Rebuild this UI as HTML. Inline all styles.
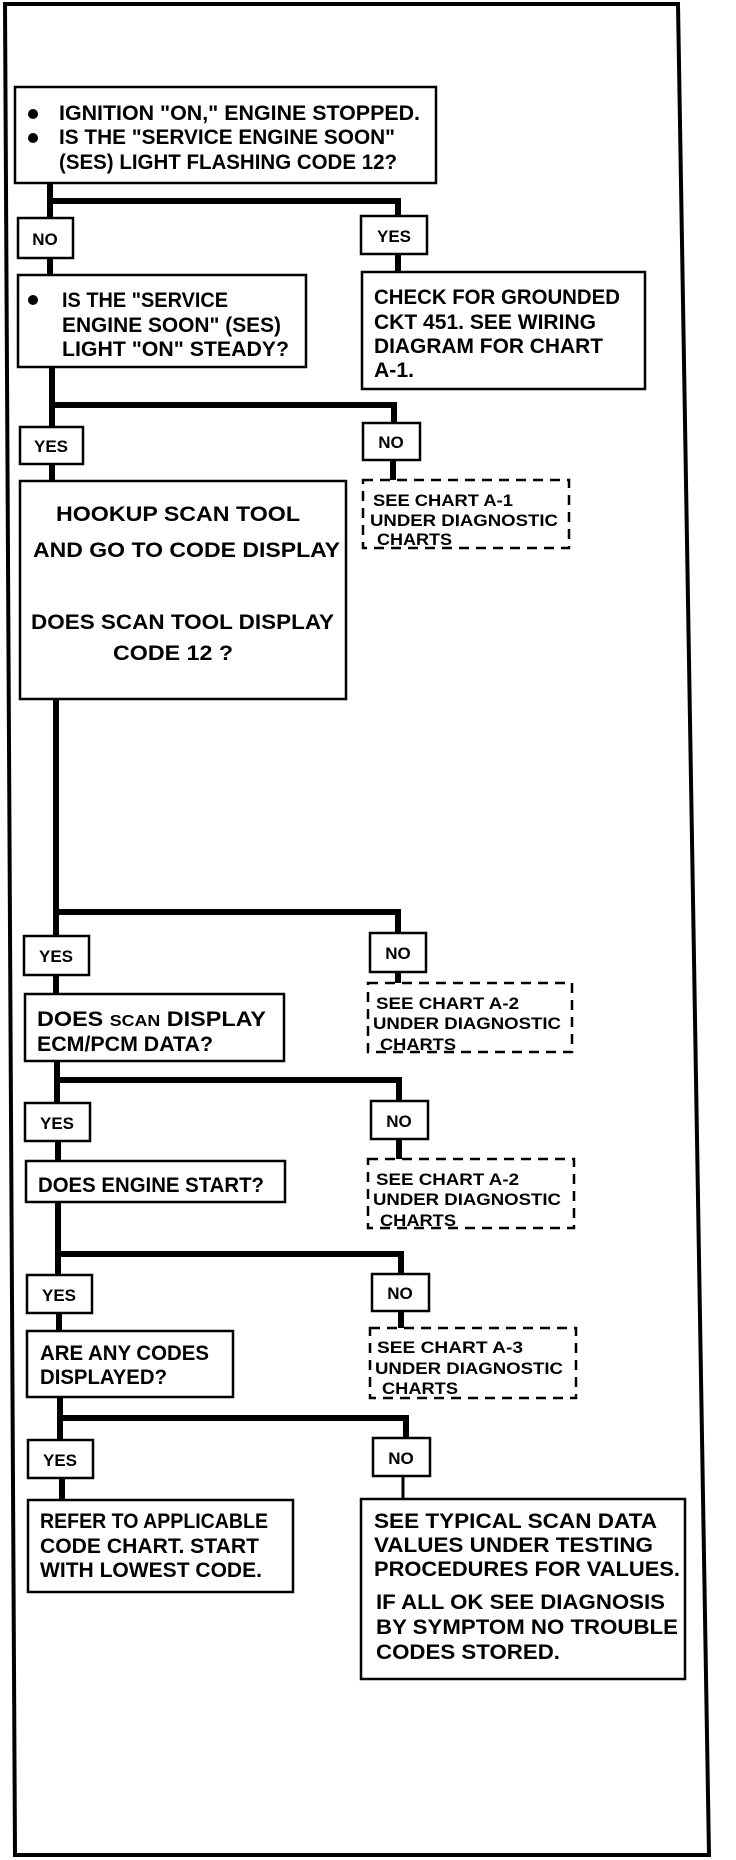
<!DOCTYPE html>
<html><head><meta charset="utf-8"><style>
html,body{margin:0;padding:0;background:#fff}
svg{display:block}
text{font-family:"Liberation Sans",sans-serif;font-weight:bold;fill:#000}
</style></head><body>
<svg width="736" height="1860" viewBox="0 0 736 1860" xmlns="http://www.w3.org/2000/svg">
<polygon points="5,4 678,4 709,1855 15,1855" fill="none" stroke="#000" stroke-width="4"/>
<g fill="none" stroke="#000" stroke-width="2.5">
<rect x="15" y="87" width="421" height="96"/>
<rect x="18" y="218" width="55" height="40"/>
<rect x="361" y="216" width="66" height="38"/>
<rect x="18" y="275" width="288" height="92"/>
<rect x="362" y="272" width="283" height="117"/>
<rect x="20" y="427" width="63" height="37"/>
<rect x="363" y="423" width="57" height="37"/>
<rect x="20" y="481" width="326" height="218"/>
<rect x="24" y="936" width="65" height="39"/>
<rect x="370" y="933" width="56" height="39"/>
<rect x="25" y="994" width="259" height="67"/>
<rect x="25" y="1103" width="65" height="38"/>
<rect x="371" y="1101" width="57" height="38"/>
<rect x="26" y="1161" width="259" height="41"/>
<rect x="27" y="1275" width="65" height="38"/>
<rect x="372" y="1274" width="57" height="37"/>
<rect x="27" y="1331" width="206" height="66"/>
<rect x="28" y="1440" width="65" height="38"/>
<rect x="373" y="1438" width="57" height="38"/>
<rect x="28" y="1500" width="265" height="92"/>
<rect x="361" y="1499" width="324" height="180"/>
</g>
<g fill="none" stroke="#000" stroke-width="2.5" stroke-dasharray="10,7">
<rect x="363" y="480" width="206" height="68"/>
<rect x="368" y="983" width="204" height="69"/>
<rect x="368" y="1159" width="206" height="69"/>
<rect x="370" y="1328" width="206" height="70"/>
</g>
<g fill="none" stroke="#000" stroke-width="6">
<path d="M50,183 V218 M50,201 H398 V216 M398,254 V272 M50,258 V275"/>
<path d="M52,367 V427 M52,405 H394 V423 M393,460 V480 M52,464 V481"/>
<path d="M56,699 V936 M56,912 H398 V933 M398,972 V983 M56,975 V994"/>
<path d="M57,1061 V1103 M57,1080 H399 V1101 M399,1139 V1159 M58,1141 V1161"/>
<path d="M58,1202 V1275 M58,1254 H401 V1274 M401,1311 V1328 M59,1313 V1331"/>
<path d="M60,1397 V1440 M60,1418 H406 V1438 M62,1478 V1500"/>
</g>
<path d="M403,1476 V1499" stroke="#000" stroke-width="3"/>
<circle cx="33" cy="114" r="5"/><circle cx="33" cy="138" r="5"/><circle cx="33" cy="300" r="5"/>
<g font-size="21">
<text x="59" y="120" textLength="361" lengthAdjust="spacingAndGlyphs">IGNITION "ON," ENGINE STOPPED.</text>
<text x="59" y="144" textLength="336" lengthAdjust="spacingAndGlyphs">IS THE "SERVICE ENGINE SOON"</text>
<text x="59" y="169" textLength="338" lengthAdjust="spacingAndGlyphs">(SES) LIGHT FLASHING CODE 12?</text>
<text x="62" y="307" textLength="166" lengthAdjust="spacingAndGlyphs">IS THE "SERVICE</text>
<text x="62" y="332" textLength="219" lengthAdjust="spacingAndGlyphs">ENGINE SOON" (SES)</text>
<text x="62" y="356" textLength="227" lengthAdjust="spacingAndGlyphs">LIGHT "ON" STEADY?</text>
<text x="374" y="304" textLength="246" lengthAdjust="spacingAndGlyphs">CHECK FOR GROUNDED</text>
<text x="374" y="329" textLength="222" lengthAdjust="spacingAndGlyphs">CKT 451.  SEE WIRING</text>
<text x="374" y="353" textLength="229" lengthAdjust="spacingAndGlyphs">DIAGRAM FOR CHART</text>
<text x="374" y="377" textLength="40" lengthAdjust="spacingAndGlyphs">A-1.</text>
<text x="56" y="521" textLength="244" lengthAdjust="spacingAndGlyphs">HOOKUP  SCAN TOOL</text>
<text x="33" y="557" textLength="307" lengthAdjust="spacingAndGlyphs">AND GO TO CODE  DISPLAY</text>
<text x="31" y="629" textLength="303" lengthAdjust="spacingAndGlyphs">DOES SCAN TOOL DISPLAY</text>
<text x="113" y="660" textLength="120" lengthAdjust="spacingAndGlyphs">CODE 12  ?</text>
<text x="37" y="1026" textLength="229" lengthAdjust="spacingAndGlyphs">DOES <tspan font-size="16">SCAN</tspan>  DISPLAY</text>
<text x="37" y="1051" textLength="176" lengthAdjust="spacingAndGlyphs">ECM/PCM DATA?</text>
<text x="38" y="1192" textLength="226" lengthAdjust="spacingAndGlyphs">DOES ENGINE START?</text>
<text x="40" y="1360" textLength="169" lengthAdjust="spacingAndGlyphs">ARE ANY CODES</text>
<text x="40" y="1384" textLength="127" lengthAdjust="spacingAndGlyphs">DISPLAYED?</text>
<text x="40" y="1528" textLength="228" lengthAdjust="spacingAndGlyphs">REFER TO APPLICABLE</text>
<text x="40" y="1553" textLength="219" lengthAdjust="spacingAndGlyphs">CODE CHART.  START</text>
<text x="40" y="1577" textLength="222" lengthAdjust="spacingAndGlyphs">WITH LOWEST CODE.</text>
<text x="374" y="1528" textLength="283" lengthAdjust="spacingAndGlyphs">SEE TYPICAL SCAN DATA</text>
<text x="374" y="1552" textLength="279" lengthAdjust="spacingAndGlyphs">VALUES UNDER TESTING</text>
<text x="374" y="1576" textLength="306" lengthAdjust="spacingAndGlyphs">PROCEDURES FOR VALUES.</text>
<text x="376" y="1609" textLength="289" lengthAdjust="spacingAndGlyphs">IF ALL OK SEE DIAGNOSIS</text>
<text x="376" y="1634" textLength="302" lengthAdjust="spacingAndGlyphs">BY SYMPTOM NO TROUBLE</text>
<text x="376" y="1659" textLength="184" lengthAdjust="spacingAndGlyphs">CODES STORED.</text>
</g>
<g font-size="17" text-anchor="middle">
<text x="45" y="245">NO</text>
<text x="394" y="242">YES</text>
<text x="51" y="452">YES</text>
<text x="391" y="448">NO</text>
<text x="56" y="962">YES</text>
<text x="398" y="959">NO</text>
<text x="57" y="1129">YES</text>
<text x="399" y="1127">NO</text>
<text x="59" y="1301">YES</text>
<text x="400" y="1299">NO</text>
<text x="60" y="1466">YES</text>
<text x="401" y="1464">NO</text>
</g>
<g font-size="17">
<text x="373" y="506" textLength="140" lengthAdjust="spacingAndGlyphs">SEE CHART A-1</text>
<text x="370" y="526" textLength="188" lengthAdjust="spacingAndGlyphs">UNDER DIAGNOSTIC</text>
<text x="377" y="545" textLength="75" lengthAdjust="spacingAndGlyphs">CHARTS</text>
<text x="376" y="1009" textLength="143" lengthAdjust="spacingAndGlyphs">SEE CHART  A-2</text>
<text x="373" y="1029" textLength="188" lengthAdjust="spacingAndGlyphs">UNDER DIAGNOSTIC</text>
<text x="380" y="1050" textLength="76" lengthAdjust="spacingAndGlyphs">CHARTS</text>
<text x="376" y="1185" textLength="143" lengthAdjust="spacingAndGlyphs">SEE CHART  A-2</text>
<text x="373" y="1205" textLength="188" lengthAdjust="spacingAndGlyphs">UNDER DIAGNOSTIC</text>
<text x="380" y="1226" textLength="76" lengthAdjust="spacingAndGlyphs">CHARTS</text>
<text x="377" y="1353" textLength="146" lengthAdjust="spacingAndGlyphs">SEE CHART  A-3</text>
<text x="375" y="1374" textLength="188" lengthAdjust="spacingAndGlyphs">UNDER DIAGNOSTIC</text>
<text x="382" y="1394" textLength="76" lengthAdjust="spacingAndGlyphs">CHARTS</text>
</g>
</svg>
</body></html>
